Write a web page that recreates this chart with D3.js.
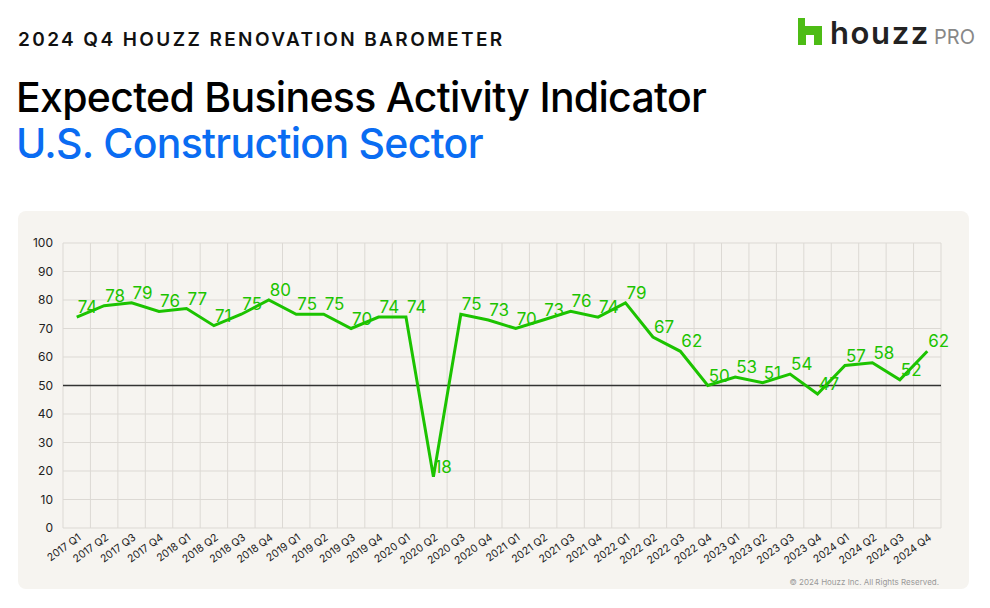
<!DOCTYPE html>
<html>
<head>
<meta charset="utf-8">
<title>Expected Business Activity Indicator</title>
<script src="https://cdn.jsdelivr.net/npm/d3@7/dist/d3.min.js"></script>
<style>
body { margin: 0; background: #fff; font-family: Inter, "Noto Sans", sans-serif; }
.grid line { stroke: #dcd9d4; stroke-width: 1; }
.axis text { fill: #222; }
</style>
</head>
<body>
<svg id="chart" width="990" height="608"></svg>
<script>
const quarters = ["2017 Q1","2017 Q2","2017 Q3","2017 Q4","2018 Q1","2018 Q2","2018 Q3","2018 Q4",
  "2019 Q1","2019 Q2","2019 Q3","2019 Q4","2020 Q1","2020 Q2","2020 Q3","2020 Q4",
  "2021 Q1","2021 Q2","2021 Q3","2021 Q4","2022 Q1","2022 Q2","2022 Q3","2022 Q4",
  "2023 Q1","2023 Q2","2023 Q3","2023 Q4","2024 Q1","2024 Q2","2024 Q3","2024 Q4"]
const values = [74,78,79,76,77,71,75,80,75,75,70,74,74,18,75,73,70,73,76,74,79,67,62,50,53,51,54,47,57,58,52,62]
const yTicks = [0,10,20,30,40,50,60,70,80,90,100]
const baseline = 50

const green = "#1cc300"
const svg = d3.select("#chart")

// header
svg.append("text").attr("x", 18).attr("y", 46)
  .attr("font-size", 19).attr("font-weight", 600).attr("letter-spacing", 2.4)
  .attr("fill", "#111").text("2024 Q4 HOUZZ RENOVATION BAROMETER")
svg.append("text").attr("x", 16).attr("y", 112)
  .attr("font-size", 41).attr("font-weight", 500).attr("letter-spacing", -0.7)
  .attr("fill", "#000").text("Expected Business Activity Indicator")
svg.append("text").attr("x", 16).attr("y", 158)
  .attr("font-size", 41).attr("font-weight", 500).attr("letter-spacing", -0.7)
  .attr("fill", "#0a6cf2").text("U.S. Construction Sector")

// logo
const logo = svg.append("g").attr("transform", "translate(798,18)")
logo.append("path").attr("fill", "#4dbc15")
  .attr("d", "M0,0 H7 V8 H24 V27 H16 V17 H8 V27 H0 Z")
logo.append("text").attr("x", 32).attr("y", 26).attr("font-size", 31).attr("font-weight", 600)
  .attr("letter-spacing", 1.6).attr("fill", "#222").text("houzz")
logo.append("text").attr("x", 136).attr("y", 26).attr("font-size", 20).attr("font-weight", 400)
  .attr("fill", "#888").text("PRO")

// panel
svg.append("rect").attr("x", 18).attr("y", 211).attr("width", 951).attr("height", 378)
  .attr("rx", 8).attr("fill", "#f6f4f0")

const margin = {left: 63, right: 941, top: 243, bottom: 528}
const x = d3.scaleBand().domain(quarters).range([margin.left, margin.right])
const y = d3.scaleLinear().domain([0, 100]).range([margin.bottom, margin.top])

// grid
const grid = svg.append("g").attr("class", "grid")
grid.selectAll("line.h").data(yTicks).join("line").attr("class", "h")
  .attr("x1", margin.left).attr("x2", margin.right)
  .attr("y1", d => y(d)).attr("y2", d => y(d))
const edges = quarters.map(q => x(q)).concat([margin.right])
grid.selectAll("line.v").data(edges).join("line").attr("class", "v")
  .attr("x1", d => d).attr("x2", d => d)
  .attr("y1", margin.top).attr("y2", margin.bottom)

// y axis
const yAxis = svg.append("g").attr("class", "axis")
  .attr("transform", "translate(" + (margin.left - 10) + ",0)")
  .call(d3.axisLeft(y).tickValues(yTicks).tickSize(0).tickPadding(0))
yAxis.select(".domain").remove()
yAxis.selectAll("text").attr("font-size", 12).attr("font-family", "Inter, sans-serif")

// x axis
const xAxis = svg.append("g").attr("class", "axis")
  .attr("transform", "translate(0," + margin.bottom + ")")
  .call(d3.axisBottom(x).tickSize(0).tickPadding(0))
xAxis.select(".domain").remove()
xAxis.selectAll("text")
  .attr("font-size", 10.5).attr("font-family", "Inter, sans-serif")
  .attr("text-anchor", "end").attr("dy", 0)
  .attr("transform", "translate(5,11) rotate(-36)")

// 50 reference line
svg.append("line")
  .attr("x1", margin.left).attr("x2", margin.right)
  .attr("y1", y(baseline)).attr("y2", y(baseline))
  .attr("stroke", "#333").attr("stroke-width", 1.6)

// series
const data = quarters.map((q, i) => ({q: q, v: values[i]}))
const line = d3.line().x(d => x(d.q) + x.bandwidth() / 2).y(d => y(d.v))
svg.append("path").datum(data).attr("d", line)
  .attr("fill", "none").attr("stroke", green).attr("stroke-width", 3)
  .attr("stroke-linejoin", "miter")

svg.append("g").selectAll("text").data(data).join("text")
  .attr("x", d => x(d.q) + x.bandwidth() / 2 + 1)
  .attr("y", d => y(d.v) - 4)
  .attr("font-size", 17).attr("fill", green)
  .text(d => d.v)

// footer
svg.append("text").attr("x", 939).attr("y", 585).attr("text-anchor", "end")
  .attr("font-size", 8).attr("fill", "#999").text("© 2024 Houzz Inc. All Rights Reserved.")
</script>
</body>
</html>
